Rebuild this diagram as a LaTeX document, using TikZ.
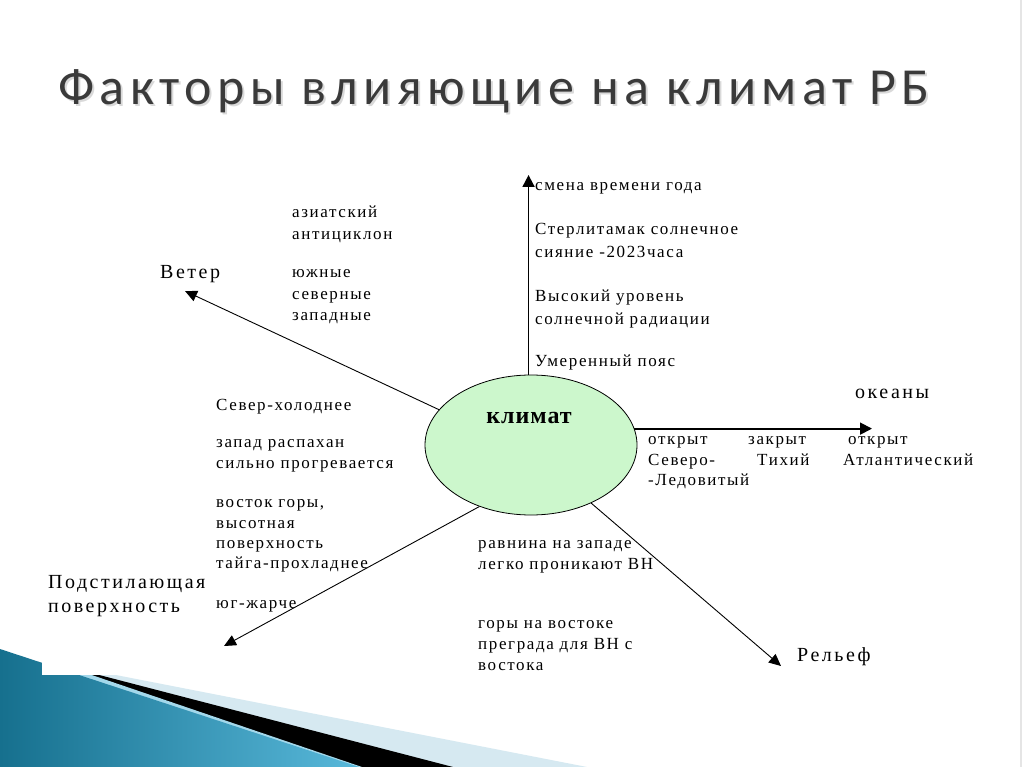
\documentclass[tikz,border=0pt]{standalone}
\usepackage{fontspec}
\setmainfont{Liberation Serif}
\newfontfamily\titlefont[LetterSpace=10.4]{Carlito}
\newfontfamily\lblfont[LetterSpace=9.5]{Liberation Serif}
\newfontfamily\bigfont[LetterSpace=12.5]{Liberation Serif}
\newfontfamily\climfont[LetterSpace=4]{Liberation Serif}
\usetikzlibrary{arrows.meta,shapes.geometric}
\definecolor{titlegray}{HTML}{3A3A3A}
\definecolor{climgreen}{HTML}{CCF7CC}
\definecolor{tealdark}{HTML}{16708E}
\definecolor{teallight}{HTML}{58B8DA}
\definecolor{bandblue}{HTML}{D6E9F1}
\tikzset{
  lbl/.style={anchor=base west, inner sep=0pt, font=\lblfont\fontsize{17}{20}\selectfont},
  big/.style={anchor=base west, inner sep=0pt, font=\bigfont\fontsize{20}{24}\selectfont},
  conn/.style={draw=black, line width=0.9pt, -{Triangle[length=12pt,width=11pt]}},
  thickconn/.style={draw=black, line width=1.8pt, -{Triangle[length=12pt,width=12pt]}},
}
\begin{document}
\begin{tikzpicture}[x=1pt,y=-1pt]
\useasboundingbox (0,0) rectangle (1024,767);
\fill[white] (0,0) rectangle (1024,767);
% decoration bottom left
\fill[bandblue] (80,668) -- (587,767) -- (80,767) -- cycle;
\fill[black] (80,670) -- (453,767) -- (80,767) -- cycle;
\fill[teallight!55!white] (80,671) -- (362,767) -- (80,767) -- cycle;
\shade[left color=tealdark, right color=teallight] (0,649) -- (359,767) -- (0,767) -- cycle;
\fill[white] (42,0) rectangle (1024,675);
\draw[gray!20, line width=2pt] (1021,0) -- (1021,767);
% title
\node[anchor=base west, inner sep=0pt, text=black!15, font=\titlefont\fontsize{52}{62}\selectfont] at (60,107) {Факторы влияющие на климат РБ};
\node (title) [anchor=base west, inner sep=0pt, text=titlegray, font=\titlefont\fontsize{52}{62}\selectfont] at (58,105) {Факторы влияющие на климат РБ};
% central ellipse
\node (clim) [ellipse, draw=black, line width=0.8pt, fill=climgreen, minimum width=212pt, minimum height=140pt, inner sep=0pt] at (531,445) {};
\node (climtxt) [anchor=base, inner sep=0pt, font=\climfont\bfseries\fontsize{24}{28}\selectfont] at (529,423) {климат};
% arrow tips
\coordinate (tipS) at (525,175);
\coordinate (tipV) at (185,291);
\coordinate (tipO) at (872,428);
\coordinate (tipR) at (781,666);
\coordinate (tipP) at (224,646);
\draw[thickconn] (clim.92) -- (clim.92 |- tipS);
\draw[conn] (clim.159) -- (tipV);
\draw[thickconn] (clim.9) -- (clim.9 -| tipO);
\draw[conn] (clim.-44) -- (tipR);
\draw[conn] (clim.230) -- (tipP);
% top labels
\node (s1) [lbl] at (535,191) {смена времени года};
\node (s2) [lbl] at (535,234) {Стерлитамак солнечное};
\node (s3) [lbl] at (535,257) {сияние -2023часа};
\node (s4) [lbl] at (535,301) {Высокий уровень};
\node (s5) [lbl] at (535,324) {солнечной радиации};
\node (s6) [lbl] at (535,366) {Умеренный пояс};
% wind
\node (veter) [big] at (160,278) {Ветер};
\node (w1) [lbl] at (292,218) {азиатский};
\node (w2) [lbl] at (292,240) {антициклон};
\node (w3) [lbl] at (292,277) {южные};
\node (w4) [lbl] at (292,299) {северные};
\node (w5) [lbl] at (292,320) {западные};
% oceans
\node (okean) [big] at (855,398) {океаны};
\node (o1) [lbl] at (648,444) {открыт};
\node (o2) [lbl] at (648,465) {Северо-};
\node (o3) [lbl] at (648,485) {-Ледовитый};
\node (o4) [lbl] at (748,444) {закрыт};
\node (o5) [lbl] at (757,465) {Тихий};
\node (o6) [lbl] at (848,444) {открыт};
\node (o7) [lbl] at (843,465) {Атлантический};
% relief
\node (relief) [big] at (797,661) {Рельеф};
\node (r1) [lbl] at (478,548) {равнина на западе};
\node (r2) [lbl] at (478,569) {легко проникают ВН};
\node (r3) [lbl] at (478,628) {горы на востоке};
\node (r4) [lbl] at (478,649) {преграда для ВН с};
\node (r5) [lbl] at (478,670) {востока};
% underlying surface
\node (pod1) [big] at (48,588) {Подстилающая};
\node (pod2) [big] at (48,612) {поверхность};
\node (p1) [lbl] at (216,410) {Север-холоднее};
\node (p2) [lbl] at (216,447) {запад распахан};
\node (p3) [lbl] at (216,468) {сильно прогревается};
\node (p4) [lbl] at (216,507) {восток горы,};
\node (p5) [lbl] at (216,528) {высотная};
\node (p6) [lbl] at (216,548) {поверхность};
\node (p7) [lbl] at (216,568) {тайга-прохладнее};
\node (p8) [lbl] at (216,608) {юг-жарче};
\end{tikzpicture}
\end{document}
